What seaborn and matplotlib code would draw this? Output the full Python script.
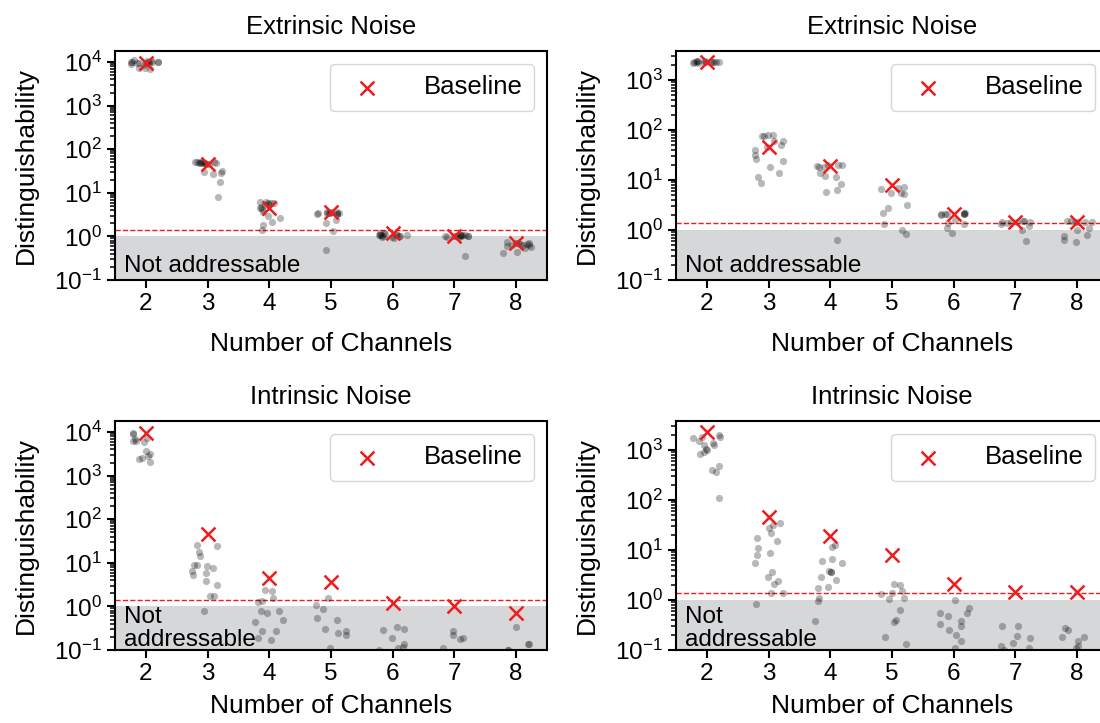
import numpy as np
import pandas as pd
import matplotlib
matplotlib.use("Agg")
import matplotlib.pyplot as plt
from matplotlib.ticker import NullFormatter, LogLocator
import seaborn as sns

# ---------------- data ----------------
channels = ["2", "3", "4", "5", "6", "7", "8"]

baseline_left = [9300, 47, 4.5, 3.6, 1.18, 1.05, 0.70]
baseline_right = [2300, 46, 19, 7.9, 2.1, 1.47, 1.45]

ext_left_points = [
    [10500, 10000, 9800, 9500, 10200, 9900, 11000, 9600, 10000, 8800, 9200, 7500, 6800, 7200, 10500, 9700, 10000, 10300],
    [50, 49, 48, 51, 47, 50, 46, 49, 52, 48, 30, 28, 31, 27, 17.5, 8.0, 49, 50],
    [6.0, 5.8, 5.2, 4.8, 6.2, 5.5, 4.2, 3.6, 3.0, 2.6, 2.1, 1.8, 1.4, 5.9, 4.5, 6.1],
    [3.6, 3.5, 3.4, 3.7, 3.3, 3.5, 3.2, 3.6, 3.4, 2.4, 2.0, 1.3, 0.5, 3.5, 3.3],
    [1.15, 1.10, 1.20, 1.05, 1.10, 1.00, 0.95, 1.12, 1.08, 1.18, 1.02, 0.98, 1.10, 1.06, 0.92],
    [1.05, 1.00, 1.10, 1.02, 1.08, 0.98, 1.04, 1.06, 1.00, 1.03, 0.35, 1.07, 0.97],
    [0.72, 0.68, 0.65, 0.70, 0.60, 0.75, 0.62, 0.55, 0.58, 0.66, 0.45, 0.42, 0.70, 0.64],
]
ext_right_points = [
    [2300, 2250, 2350, 2200, 2400, 2280, 2320, 2260, 2340, 2300, 2220, 2380, 2290, 2310],
    [78, 76, 80, 59, 45, 40, 31, 26, 24, 18, 14, 11.5, 8.9, 60, 50, 75],
    [19, 20, 18, 19.5, 14, 11.7, 8.2, 6.3, 5.8, 0.62, 18.5, 12, 20],
    [7.4, 6.5, 5.2, 5.4, 3.2, 2.8, 2.2, 1.3, 1.0, 0.83, 6.8, 5.6],
    [2.1, 2.1, 2.2, 2.0, 2.1, 2.15, 2.05, 1.4, 1.1, 0.87, 1.6, 2.1, 1.3],
    [1.45, 1.5, 1.4, 1.45, 1.48, 1.42, 1.2, 1.0, 0.59, 1.3, 1.45],
    [1.45, 1.5, 1.42, 1.48, 1.45, 1.0, 0.8, 0.62, 0.57, 0.75, 1.1, 1.45],
]
int_left_points = [
    [9600, 8900, 7400, 6200, 6200, 5800, 3600, 2800, 3100, 2500, 2100, 7000, 2400],
    [24, 26, 18, 14, 8.3, 6.4, 5.3, 3.8, 9.1, 7.6, 3.1, 1.7, 1.7, 0.79, 9.0, 5.8],
    [2.4, 2.3, 1.26, 0.79, 0.79, 1.3, 0.7, 0.49, 0.27, 0.19, 0.28, 0.17, 1.6, 0.45],
    [1.55, 1.1, 0.88, 0.49, 0.54, 0.31, 0.22, 0.28, 0.11, 0.25],
    [0.33, 0.19, 0.14, 0.29, 0.12, 0.10, 0.30, 0.11],
    [0.28, 0.18, 0.22, 0.19, 0.11],
    [0.33, 0.14, 0.135, 0.10, 0.10],
]
int_right_points = [
    [2000, 1860, 1730, 1350, 1260, 1230, 1070, 1000, 930, 850, 480, 405, 360, 112, 1500, 1800],
    [35, 28, 22, 17, 15, 10.9, 8.9, 7.9, 5.4, 3.6, 2.9, 2.1, 2.4, 1.4, 0.83, 32, 1.4],
    [12.7, 11.7, 6.5, 5.6, 3.8, 3.6, 2.5, 1.7, 1.8, 0.97, 1.08, 0.38, 2.9, 6.0, 3.7],
    [2.1, 1.5, 1.4, 1.1, 1.05, 0.63, 0.37, 0.39, 0.18, 0.13, 2.0, 1.3],
    [1.0, 0.69, 0.56, 0.48, 0.38, 0.33, 0.30, 0.20, 0.15, 0.11, 0.55, 0.25],
    [0.30, 0.30, 0.19, 0.14, 0.17, 0.11, 0.10, 0.12],
    [0.27, 0.25, 0.18, 0.15, 0.12, 0.11, 0.18],
]

titles = ["Extrinsic Noise", "Extrinsic Noise", "Intrinsic Noise", "Intrinsic Noise"]
ylims = [(0.1, 1.8e4), (0.1, 3800), (0.1, 1.8e4), (0.1, 3800)]
threshold = 1.4
addressable_limit = 1.0

# ---------------- style ----------------
sns.set_style("ticks")
plt.rcParams["font.family"] = ["Liberation Sans", "DejaVu Sans"]
for key in ["text.color", "axes.labelcolor", "xtick.color", "ytick.color", "axes.edgecolor"]:
    plt.rcParams[key] = "black"
plt.rcParams.update({
    "axes.linewidth": 1.5,
    "xtick.major.width": 1.5,
    "ytick.major.width": 1.5,
    "xtick.major.size": 6,
    "ytick.major.size": 6,
    "ytick.minor.size": 3.5,
    "ytick.minor.width": 1.1,
    "ytick.minor.left": True,
})

fig = plt.figure(figsize=(11, 7.23), dpi=100)
W, H = 1100, 723
ax_w, ax_h = 432 / W, 229 / H
positions = [
    (115 / W, 1 - 280 / H),
    (676 / W, 1 - 280 / H),
    (115 / W, 1 - 650 / H),
    (676 / W, 1 - 650 / H),
]
panel_points = [ext_left_points, ext_right_points, int_left_points, int_right_points]
panel_base = [baseline_left, baseline_right, baseline_left, baseline_right]

np.random.seed(3)
for i in range(4):
    ax = fig.add_axes([positions[i][0], positions[i][1], ax_w, ax_h])
    ax.set_yscale("log")
    rows = []
    for ch, vals in zip(channels, panel_points[i]):
        for v in vals:
            rows.append((ch, v))
    df = pd.DataFrame(rows, columns=["ch", "val"])
    sns.stripplot(data=df, x="ch", y="val", order=channels, jitter=0.25,
                  color="black", alpha=0.28, size=5.2, linewidth=0, ax=ax, zorder=3)
    bdf = pd.DataFrame({"ch": channels, "val": panel_base[i]})
    sns.stripplot(data=bdf, x="ch", y="val", order=channels, jitter=False,
                  marker="x", color="#ee1c1c", size=10, linewidth=1.8,
                  ax=ax, zorder=4, label="Baseline")
    ax.set_ylim(*ylims[i])
    ax.yaxis.set_major_locator(LogLocator(base=10, numticks=20))
    ax.yaxis.set_minor_locator(LogLocator(base=10, subs=np.arange(2, 10), numticks=200))
    ax.yaxis.set_minor_formatter(NullFormatter())
    ax.set_ylim(*ylims[i])
    ax.yaxis.set_tick_params(which="minor", left=True, length=3.5, width=1.1,
                             color="black", direction="out")
    ax.tick_params(axis="both", which="major", length=6, width=1.5,
                   color="black", direction="out", labelsize=17.5)
    ax.axhspan(0.01, addressable_limit, color="#d6d7d9", lw=0, zorder=0)
    ax.axhline(threshold, color="#ee1c1c", ls="--", lw=1.0, zorder=1)
    ax.set_xlim(-0.5, 6.5)
    ax.set_title(titles[i], fontsize=18.5, pad=12)
    ax.set_xlabel("Number of Channels", fontsize=19, labelpad=12 if i < 2 else 6)
    ax.set_ylabel("Distinguishability", fontsize=19, labelpad=12)
    handles, labels = ax.get_legend_handles_labels()
    ax.legend(handles[:1], ["Baseline"], loc="upper right", fontsize=18.5,
              handlelength=2.0, handletextpad=1.2, borderpad=0.45)
    if i < 2:
        ax.text(0.02, 0.035, "Not addressable", transform=ax.transAxes,
                fontsize=17.5, va="baseline", ha="left", zorder=5)
    else:
        ax.text(0.02, -0.005, "Not\naddressable", transform=ax.transAxes,
                fontsize=17.5, va="bottom", ha="left", linespacing=1.05, zorder=5)

fig.savefig("out.png", dpi=100)
